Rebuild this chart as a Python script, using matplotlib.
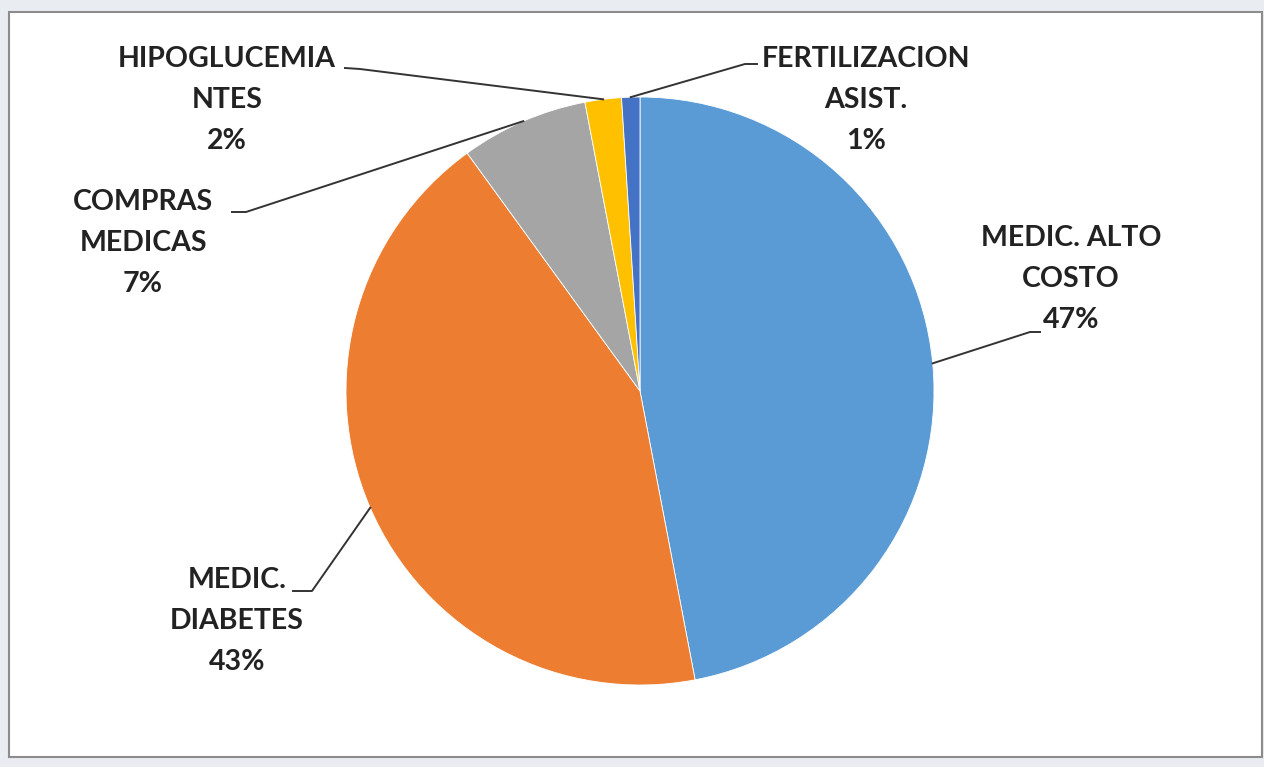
import numpy as np
import matplotlib.pyplot as plt
from matplotlib.patches import Rectangle

plt.rcParams['font.family'] = ['Lato', 'DejaVu Sans']

# datos
categorias = ['MEDIC. ALTO\nCOSTO', 'MEDIC.\nDIABETES', 'COMPRAS\nMEDICAS', 'HIPOGLUCEMIA\nNTES', 'FERTILIZACION\nASIST.']
valores = [47, 43, 7, 2, 1]
colores = ['#5B9BD5', '#ED7D31', '#A5A5A5', '#FFC000', '#4472C4']

W, H = 1264, 767
cx, cy, R = 640, 391, 294  # centro y radio del pie en pixeles

# posiciones de etiquetas (pixeles): centro del texto, inicio de la linea, codo
lab_pos = [(1071, 279), (237, 621), (143, 243), (227, 100), (866, 100)]
lab_start = [(1040, 332), (293, 591), (232, 212), (345, 68), (757, 64)]
lab_elbow = [(1030, 332), (312, 591), (246, 212), (360, 69), (745, 64)]


def px(p):
    return ((p[0] - cx) / R, (cy - p[1]) / R)


fig = plt.figure(figsize=(W / 100, H / 100), dpi=100)
fig.patch.set_facecolor('#e9ecf0')
fig.patches.append(Rectangle((9 / W, 1 - 757 / H), 1253 / W, 745 / H, transform=fig.transFigure,
                             facecolor='white', edgecolor='#8c8c8c', lw=1.5, zorder=-5))

ax = fig.add_axes([0, 0, 1, 1])
ax.set_facecolor('none')
wedges, _ = ax.pie(valores, colors=colores, startangle=90, counterclock=False, radius=1,
                   wedgeprops=dict(edgecolor='white', linewidth=0.6))
ax.set_xlim(-cx / R, (W - cx) / R)
ax.set_ylim(-(H - cy) / R, cy / R)
ax.axis('off')

total = sum(valores)
for w, cat, v, tp, sp, ep in zip(wedges, categorias, valores, lab_pos, lab_start, lab_elbow):
    ang = np.deg2rad((w.theta1 + w.theta2) / 2)
    x0, y0 = np.cos(ang), np.sin(ang)
    s, e = px(sp), px(ep)
    ax.plot([s[0], e[0], x0], [s[1], e[1], y0], color='#333333', lw=1.4, clip_on=False)
    t = px(tp)
    ax.text(t[0], t[1], f'{cat}\n{round(100 * v / total)}%', ha='center', va='center',
            multialignment='center', fontsize=20.5, fontweight='bold', color='#222222',
            linespacing=1.72)

plt.savefig('out.png', dpi=100, facecolor=fig.get_facecolor())
